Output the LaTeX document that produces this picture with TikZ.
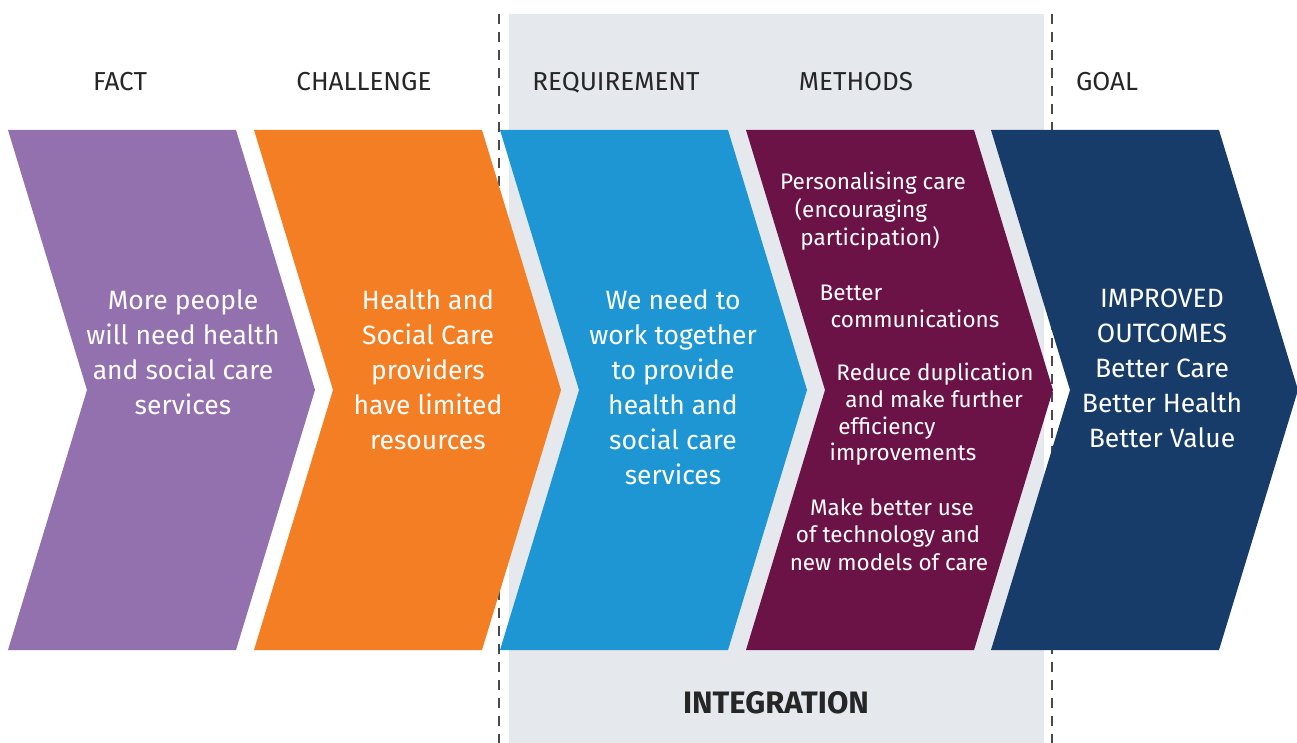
\documentclass[tikz,border=0pt]{standalone}
\usepackage{fontspec}
\setmainfont{Fira Sans}
\usetikzlibrary{positioning}
\definecolor{factcol}{HTML}{9370AE}
\definecolor{challcol}{HTML}{F47E23}
\definecolor{reqcol}{HTML}{1E96D3}
\definecolor{methcol}{HTML}{6B1246}
\definecolor{goalcol}{HTML}{173C69}
\definecolor{intcol}{HTML}{E5E8ED}
\definecolor{dashcol}{HTML}{4A4A4A}
\tikzset{
  heading/.style={anchor=base,text=black!85,font=\fontsize{26}{30}\selectfont},
  chevtext/.style={align=center,text=white,font=\fontsize{26.5}{35}\selectfont},
  methline/.style={anchor=base,text=white,inner sep=0pt,font=\fontsize{22.5}{27}\selectfont},
  divider/.style={dashcol,line width=1.4pt,dash pattern=on 10pt off 8pt},
}
% one chevron: left x, colour
\newcommand\chevron[2]{\fill[#2] (#1,130) -- ++(228,0) -- ++(79,260) -- ++(-79,260) -- ++(-228,0) -- ++(79,-260) -- cycle;}
\begin{document}
\begin{tikzpicture}[x=1pt,y=-1pt]
	\useasboundingbox (0,0) rectangle (1297,743);
	\fill[intcol] (509,14) rectangle (1044,743);
	\coordinate (dl-top) at (499,14);  \coordinate (dl-bot) at (499,743);
	\coordinate (dr-top) at (1052,14); \coordinate (dr-bot) at (1052,743);
	\draw[divider] (dl-top) -- (dl-bot);
	\draw[divider] (dr-top) -- (dr-bot);
	% chevrons
	\chevron{8}{factcol}
	\chevron{254}{challcol}
	\chevron{500}{reqcol}
	\chevron{746}{methcol}
	\chevron{991}{goalcol}
	% headings
	\node[heading] (h-fact)  at (120,91)  {FACT};
	\node[heading] (h-chall) at (364,91)  {CHALLENGE};
	\node[heading] (h-req)   at (616,91)  {REQUIREMENT};
	\node[heading] (h-meth)  at (856,91)  {METHODS};
	\node[heading] (h-goal)  at (1107,91) {GOAL};
	% chevron texts
	\node[chevtext] (t-fact)  at (183,352)  {More people\\will need health\\and social care\\services};
	\node[chevtext] (t-chall) at (428,370)  {Health and\\Social Care\\providers\\have limited\\resources};
	\node[chevtext] (t-req)   at (673,387)  {We need to\\work together\\to provide\\health and\\social care\\services};
	\node[chevtext] (t-goal)  at (1162,368) {IMPROVED\\OUTCOMES\\Better Care\\Better Health\\Better Value};
	% methods, line by line
	\foreach \i/\x/\y/\t in {1/873/190/Personalising care,2/861/218/(encouraging,3/870/246/participation),
	                         4/851/300/Better,5/915/327/communications,
	                         6/935/380/Reduce duplication,7/934/407/and make further,8/887/434/efficiency,9/903/460/improvements,
	                         10/892/515/Make better use,11/888/542/of technology and,12/889/570/new models of care}
	  \node[methline] (m-\i) at (\x,\y) {\t};
	\node[anchor=base,text=black!85,font=\fontsize{31}{34}\selectfont\bfseries] (integ) at (776,713) {INTEGRATION};
\end{tikzpicture}
\end{document}
